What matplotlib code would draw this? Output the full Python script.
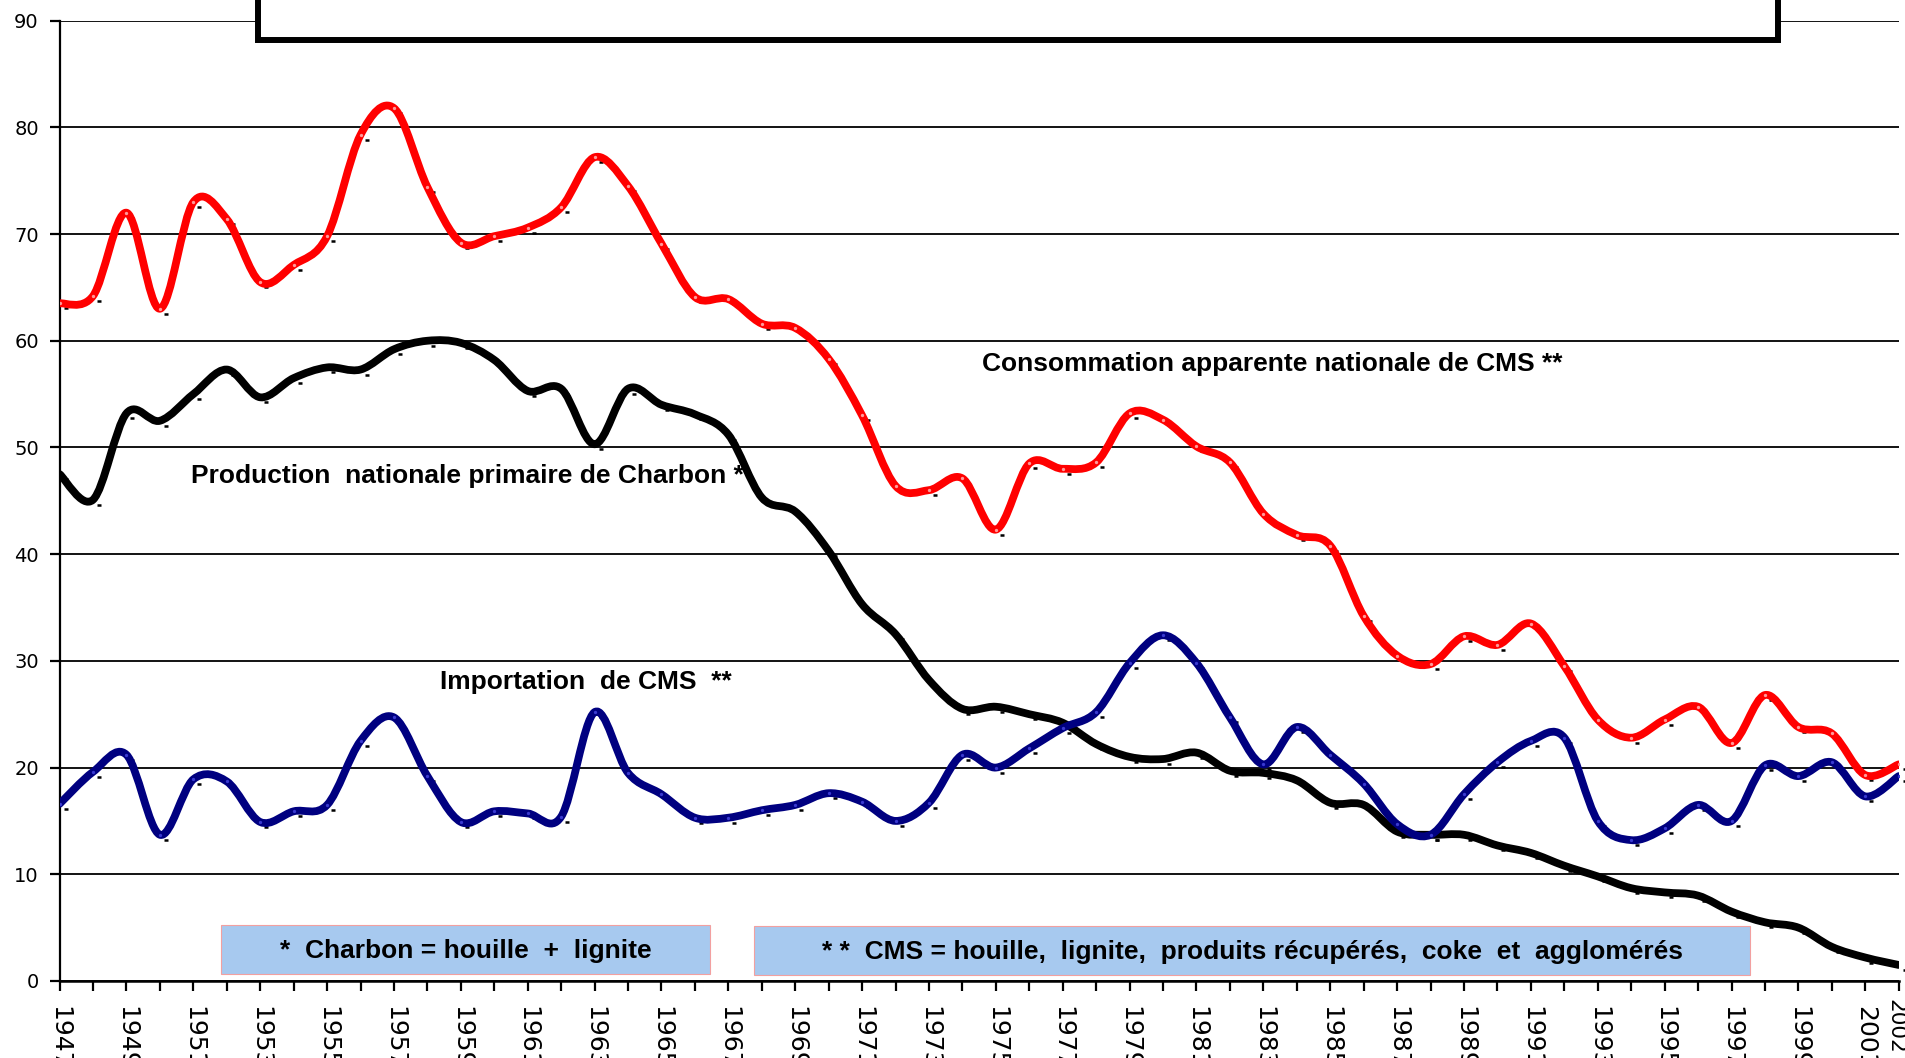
import matplotlib
matplotlib.use('Agg')
import matplotlib.pyplot as plt
from matplotlib.patches import Rectangle, PathPatch
from matplotlib.path import Path
from matplotlib.transforms import ScaledTranslation

years = list(range(1947, 2003))

# Consommation apparente nationale de CMS (Mt)
conso = [63.5, 64.2, 72.0, 63.0, 73.0, 71.4, 65.5, 67.1, 69.8, 79.3,
         81.8, 74.4, 69.2, 69.8, 70.6, 72.5, 77.2, 74.5, 69.1, 64.1,
         63.9, 61.6, 61.2, 58.3, 53.0, 46.4, 46.0, 47.1, 42.3, 48.5,
         48.0, 48.6, 53.2, 52.6, 50.1, 48.6, 43.8, 41.8, 40.8, 34.2,
         30.5, 29.7, 32.3, 31.5, 33.5, 29.5, 24.5, 22.8, 24.5, 25.7,
         22.3, 26.8, 23.8, 23.2, 19.3, 20.3]

# Production nationale primaire de charbon
production = [47.5, 45.1, 53.2, 52.5, 55.0, 57.3, 54.7, 56.5, 57.5, 57.3,
              59.2, 60.0, 59.8, 58.2, 55.3, 55.5, 50.3, 55.5, 54.0, 53.1,
              51.2, 45.3, 44.0, 40.3, 35.3, 32.5, 28.2, 25.5, 25.7, 25.0,
              24.2, 22.2, 21.0, 20.8, 21.4, 19.7, 19.5, 18.8, 16.7, 16.5,
              14.0, 13.7, 13.7, 12.7, 12.0, 10.8, 9.8, 8.7, 8.3, 8.0,
              6.5, 5.5, 5.0, 3.2, 2.2, 1.5]

# Importation de CMS
imports = [16.6, 19.6, 21.2, 13.7, 18.9, 18.7, 14.9, 15.9, 16.5, 22.5,
           24.7, 19.2, 14.9, 15.9, 15.7, 15.4, 25.2, 19.5, 17.5, 15.3,
           15.3, 16.0, 16.5, 17.6, 16.8, 15.0, 16.7, 21.2, 20.0, 21.8,
           23.7, 25.2, 29.8, 32.4, 29.8, 24.7, 20.3, 23.8, 21.2, 18.5,
           14.7, 13.7, 17.5, 20.5, 22.5, 22.8, 15.0, 13.2, 14.3, 16.5,
           15.0, 20.2, 19.2, 20.5, 17.3, 19.2]

labels = [str(y) if (y % 2 == 1 or y == 2002) else '' for y in years]


def smooth_path(xs, ys):
    # bezier path through the points (like excel "smoothed line")
    n = len(xs)
    verts = [(xs[0], ys[0])]
    codes = [Path.MOVETO]
    for i in range(n - 1):
        a = i - 1 if i > 0 else i
        d = i + 2 if i + 2 < n else i + 1
        c1 = (xs[i] + (xs[i + 1] - xs[a]) / 6.0, ys[i] + (ys[i + 1] - ys[a]) / 6.0)
        c2 = (xs[i + 1] - (xs[d] - xs[i]) / 6.0, ys[i + 1] - (ys[d] - ys[i]) / 6.0)
        verts += [c1, c2, (xs[i + 1], ys[i + 1])]
        codes += [Path.CURVE4] * 3
    return Path(verts, codes)


fig = plt.figure(figsize=(19.06, 10.58), dpi=100)
ax = fig.add_axes([0.03127, 0.0728, 0.9649, 0.9077])

ax.set_xlim(1947, 2002)
ax.set_ylim(0, 90)
ax.set_yticks(range(0, 91, 10))
ax.yaxis.grid(True, color='black', linewidth=1.3)
ax.set_axisbelow(True)
for s in ['top', 'right']:
    ax.spines[s].set_visible(False)
ax.spines['left'].set_linewidth(1.6)
ax.spines['bottom'].set_linewidth(1.8)

ax.set_xticks(years)
ax.set_xticklabels(labels, rotation=-90, fontsize=18, family='DejaVu Sans', va='top', ha='center')
ax.tick_params(axis='x', length=7, width=1.6, pad=11)
ax.tick_params(axis='y', length=7, width=1.6, pad=8, labelsize=14)
# last label (2002) is a bit smaller and sits higher, like in the original
last = ax.get_xticklabels()[-1]
last.set_fontsize(15.5)
last.set_transform(last.get_transform() + ScaledTranslation(-0.03, 0.07, fig.dpi_scale_trans))

# small black dashes below each point (shadow markers)
shadow = ax.transData + ScaledTranslation(0.06, -0.05, fig.dpi_scale_trans)
for vals in [production, imports, conso]:
    ax.plot(years, vals, ls='none', marker='_', ms=3.5, mew=1.8, color='black',
            transform=shadow, zorder=2, clip_on=False)

series = [(production, 'black', None, 3),
          (imports, '#000080', '#3a3ad0', 4),
          (conso, '#ff0000', '#ff9a9a', 5)]
for vals, col, dot, z in series:
    ax.add_patch(PathPatch(smooth_path(years, vals), fill=False, edgecolor=col, lw=5.6,
                           capstyle='round', joinstyle='round', zorder=z))
    if dot:
        ax.plot(years, vals, ls='none', marker='o', ms=2.4, mfc=dot, mec='none', zorder=z)

bold = dict(fontsize=19, fontweight='bold', family='Liberation Sans', va='center')
ax.text(1974.58, 57.8, 'Consommation apparente nationale de CMS **', **bold)
ax.text(1950.92, 47.3, 'Production  nationale primaire de Charbon *', **bold)
ax.text(1958.38, 28.0, 'Importation  de CMS  **', **bold)

# legend boxes
ax.add_patch(Rectangle((1951.83, 0.66), 1966.45 - 1951.83, 4.6, facecolor='#a7c9ef',
                       edgecolor='#f2a0a0', linewidth=0.8, zorder=6))
ax.text((1951.83 + 1966.45) / 2, 2.85, '*  Charbon = houille  +  lignite',
        ha='center', zorder=7, **bold)
ax.add_patch(Rectangle((1967.76, 0.56), 1997.56 - 1967.76, 4.6, facecolor='#a7c9ef',
                       edgecolor='#f2a0a0', linewidth=0.8, zorder=6))
ax.text((1967.76 + 1997.56) / 2, 2.75,
        '* *  CMS = houille,  lignite,  produits récupérés,  coke  et  agglomérés',
        ha='center', zorder=7, **bold)

# title frame cut at top
fig.add_artist(Rectangle((0.1352, 0.9622), 0.933 - 0.1352, 0.1, transform=fig.transFigure,
                         facecolor='white', edgecolor='black', linewidth=4.3, zorder=10))

fig.savefig('out.png', dpi=100)
